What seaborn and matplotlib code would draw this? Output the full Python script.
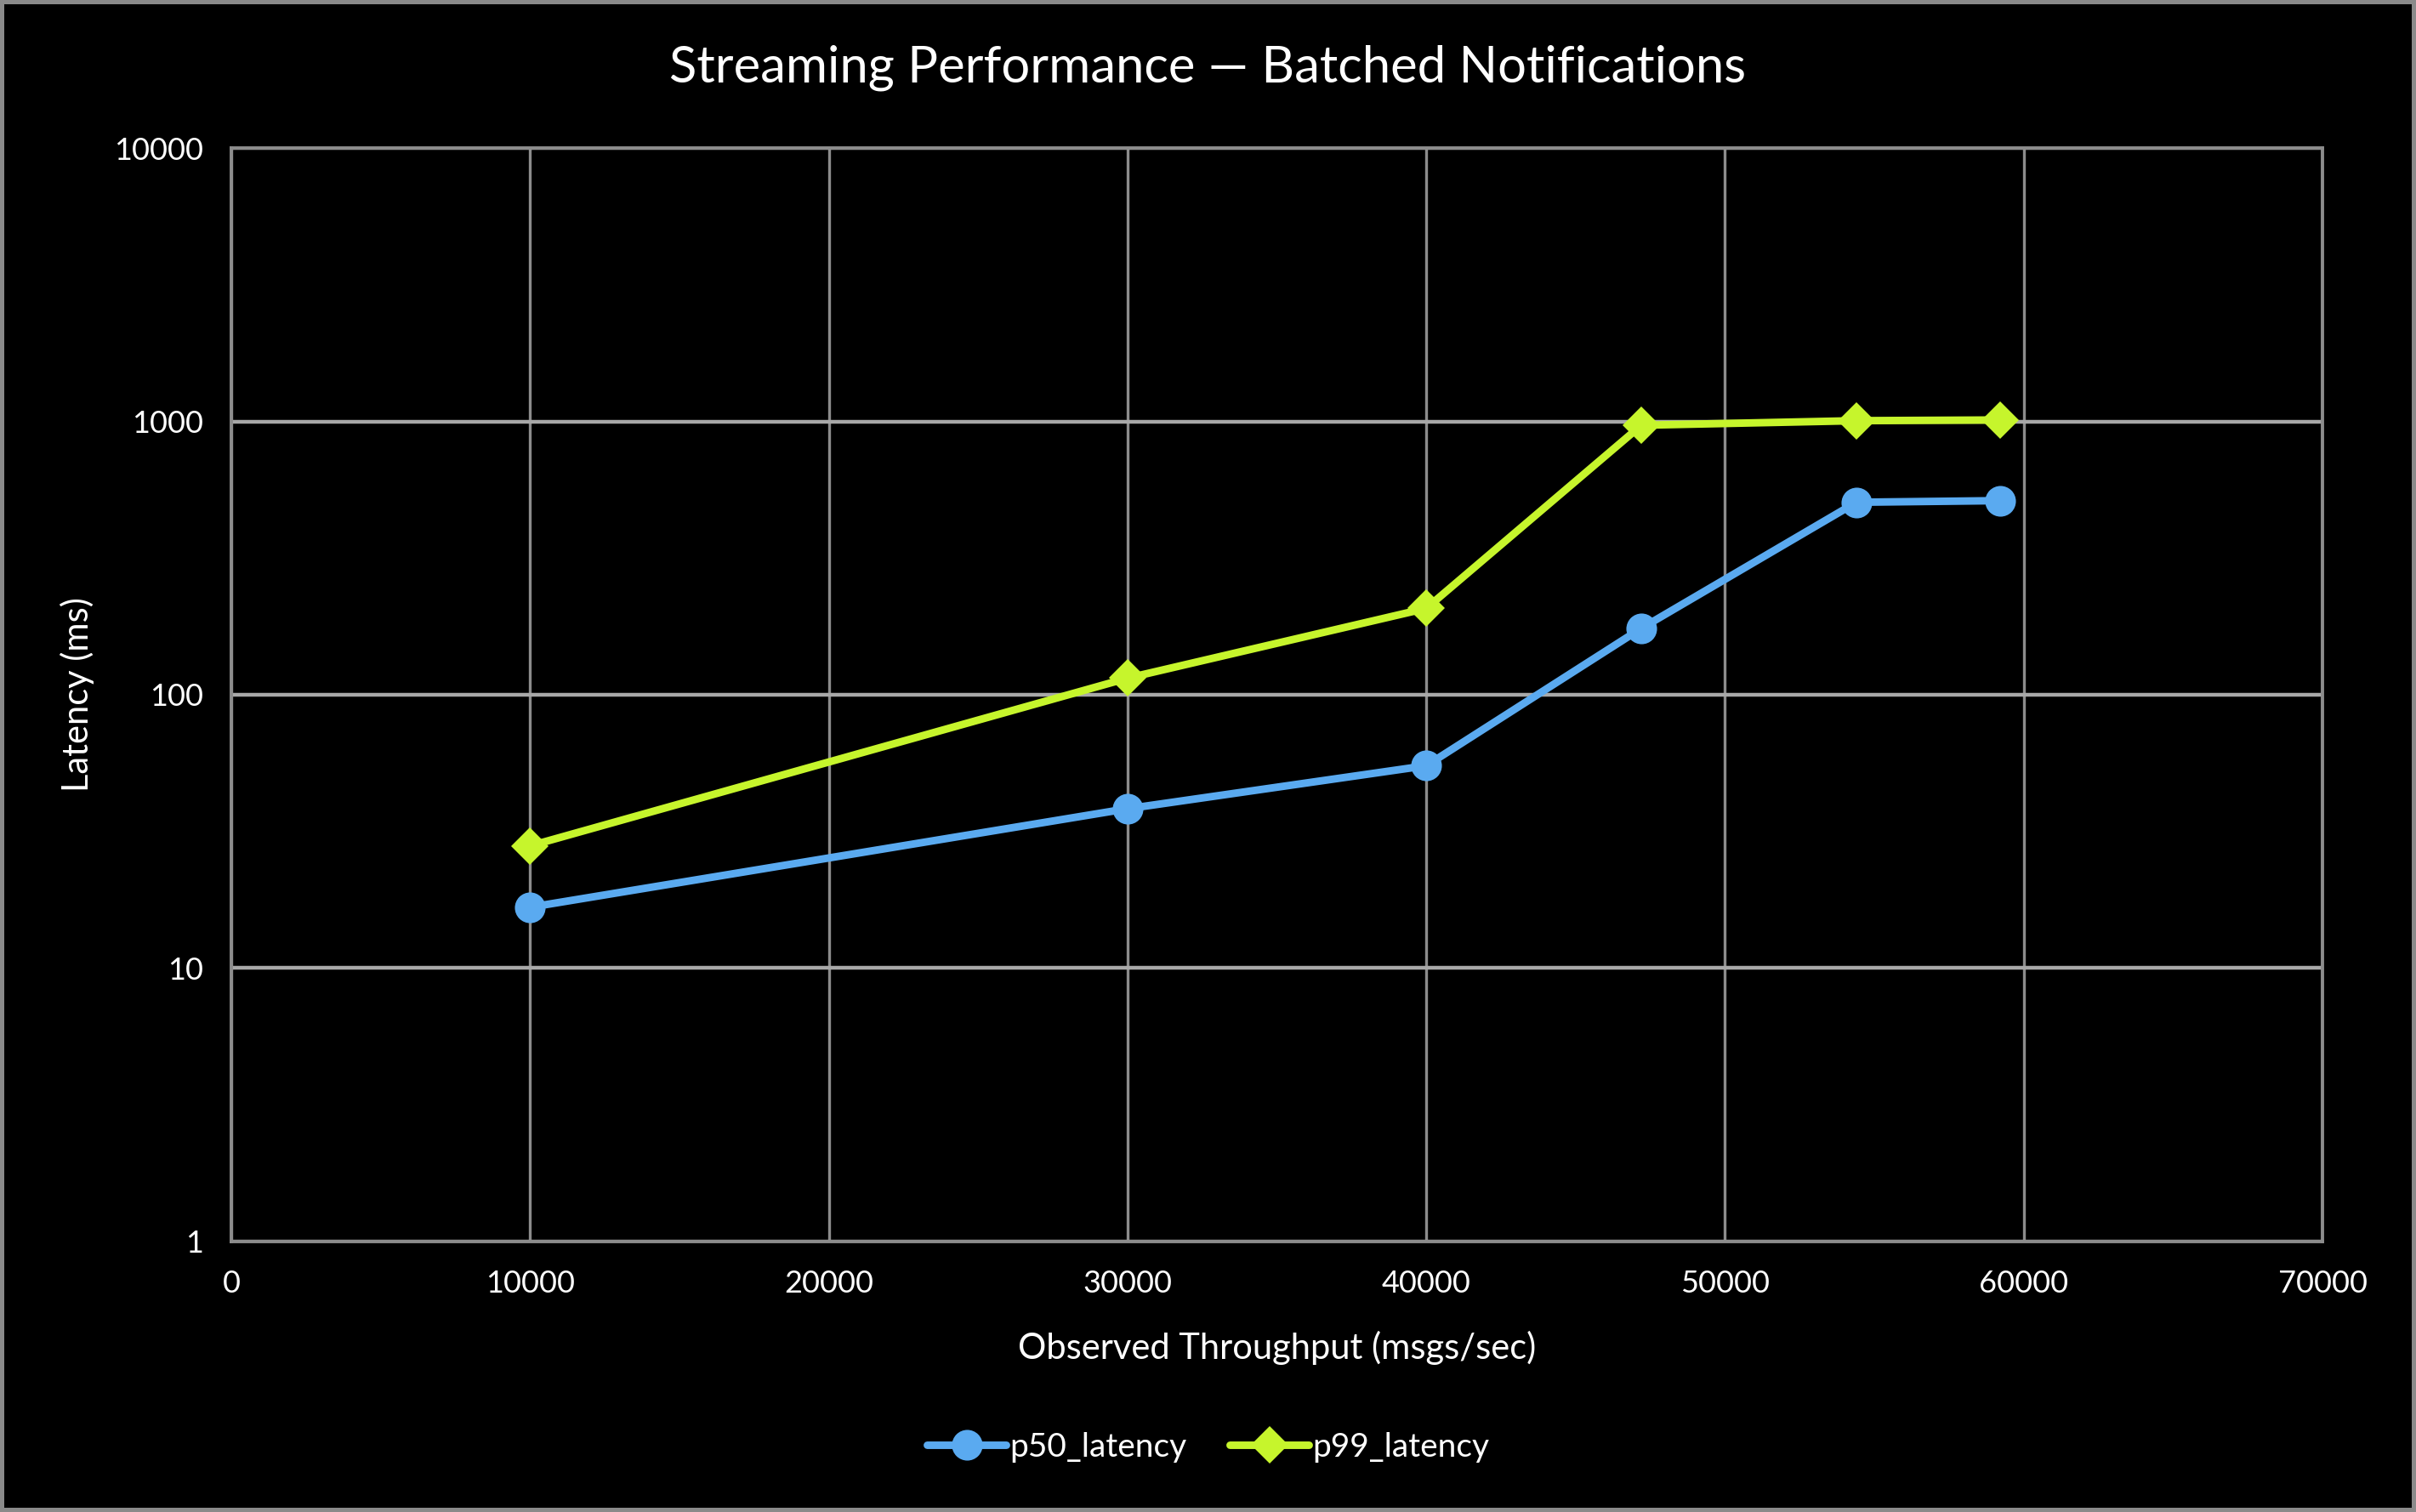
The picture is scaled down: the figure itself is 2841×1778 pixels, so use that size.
import pandas as pd
import matplotlib.pyplot as plt
import seaborn as sns

# values
throughput_p50 = [10000, 30000, 40000, 47200, 54400, 59200]
p50_latency = [16.7, 38.3, 55, 175, 506, 513]
throughput_p99 = [10000, 30000, 40000, 47200, 54400, 59200]
p99_latency = [28, 115, 207, 968, 1006, 1012]

x_ticks = [0, 10000, 20000, 30000, 40000, 50000, 60000, 70000]
y_ticks = [1, 10, 100, 1000, 10000]

df = pd.concat([
    pd.DataFrame({'throughput': throughput_p50, 'latency': p50_latency, 'series': 'p50_latency'}),
    pd.DataFrame({'throughput': throughput_p99, 'latency': p99_latency, 'series': 'p99_latency'}),
])

sns.set_style('dark')
plt.rcParams['font.family'] = ['Lato', 'DejaVu Sans']

fig = plt.figure(figsize=(14.205, 8.89), dpi=200, facecolor='black',
                 edgecolor='#8a8a8a', linewidth=3)
ax = fig.add_axes([0.0957, 0.1789, 0.8656, 0.7232])
ax.set_facecolor('black')

palette = {'p50_latency': '#5aaaf0', 'p99_latency': '#c6f52c'}
markers = {'p50_latency': 'o', 'p99_latency': 'D'}
sizes = {'p50_latency': 13, 'p99_latency': 11}

for name, sub in df.groupby('series'):
    sns.lineplot(data=sub, x='throughput', y='latency', ax=ax, color=palette[name],
                 marker=markers[name], markersize=sizes[name], markeredgewidth=0,
                 linewidth=3.2, label=name, legend=False, zorder=3)

ax.set_yscale('log')
ax.set_xlim(0, 70000)
ax.set_ylim(1, 10000)
ax.set_xticks(x_ticks)
ax.set_xticklabels([str(v) for v in x_ticks])
ax.set_yticks(y_ticks)
ax.set_yticklabels([str(v) for v in y_ticks])
ax.minorticks_off()

ax.grid(True, axis='x', color='#8c8c8c', linewidth=1.2)
ax.grid(True, axis='y', color='#a8a8a8', linewidth=1.6)
for s in ax.spines.values():
    s.set_visible(True)
    s.set_color('#8c8c8c')
    s.set_linewidth(1.4)
ax.tick_params(colors='white', labelsize=13, length=0, pad=12)

ax.set_xlabel('Observed Throughput (msgs/sec)', color='white', fontsize=15, labelpad=14)
ax.set_ylabel('Latency (ms)', color='white', fontsize=15, labelpad=8)

fig.text(0.5, 0.955, 'Streaming Performance — Batched Notifications', color='white',
         fontsize=21.5, ha='center', va='center')

handles, labels = ax.get_legend_handles_labels()
leg = fig.legend(handles, labels, loc='center', bbox_to_anchor=(0.5, 0.043), ncol=2,
                 frameon=False, fontsize=14, labelcolor='white', handlelength=2.4,
                 handletextpad=0.1, columnspacing=1.3)

fig.savefig('out.png', dpi=200, facecolor='black', edgecolor='#8a8a8a')
